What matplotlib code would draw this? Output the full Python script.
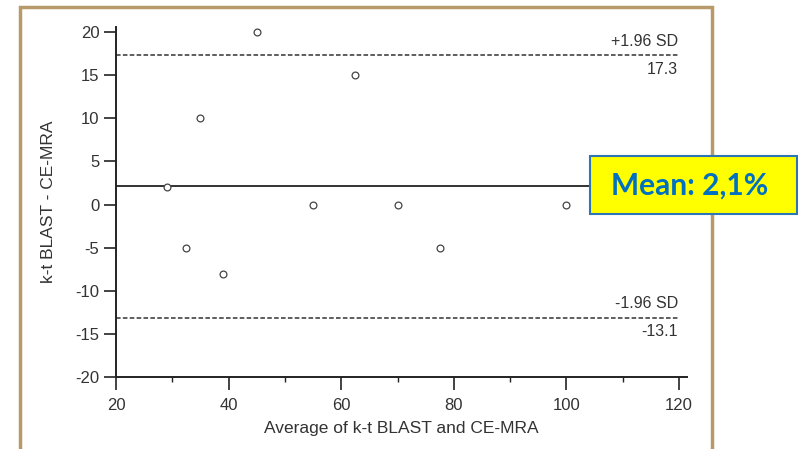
import matplotlib.pyplot as plt
from matplotlib.patches import Rectangle
from matplotlib.ticker import MultipleLocator

# Bland-Altman data
avg = [29, 32.5, 35, 39, 45, 55, 62.5, 70, 77.5, 100]
diff = [2, -5, 10, -8, 20, 0, 15, 0, -5, 0]
mean_diff = 2.1
upper_loa = 17.3
lower_loa = -13.1

plt.rcParams['font.family'] = ['Liberation Sans', 'DejaVu Sans']
plt.rcParams['axes.unicode_minus'] = False

fig = plt.figure(figsize=(7.98, 4.49), dpi=100)
ax = fig.add_axes([116 / 798, 72 / 449, 571 / 798, 350 / 449])

ink = '#222222'
ax.scatter(avg, diff, s=24, facecolors='white', edgecolors='#444444',
           linewidths=0.9, zorder=3)

ax.plot([20, 120], [mean_diff, mean_diff], color=ink, lw=1.3)
ax.plot([20, 120], [upper_loa, upper_loa], color='#333333', lw=1.1,
        linestyle=(0, (3, 1.5)))
ax.plot([20, 120], [lower_loa, lower_loa], color='#333333', lw=1.1,
        linestyle=(0, (3, 1.5)))

ax.text(119.8, upper_loa + 0.7, '+1.96 SD', ha='right', va='bottom',
        fontsize=11.5, color='#333333')
ax.text(119.8, upper_loa - 0.8, '%.1f' % upper_loa, ha='right', va='top',
        fontsize=11.5, color='#333333')
ax.text(119.8, lower_loa + 0.7, '-1.96 SD', ha='right', va='bottom',
        fontsize=11.5, color='#333333')
ax.text(119.8, lower_loa - 0.8, '%.1f' % lower_loa, ha='right', va='top',
        fontsize=11.5, color='#333333')

ax.set_xlim(20, 121.4)
ax.set_ylim(-20, 20.6)
ax.xaxis.set_major_locator(MultipleLocator(20))
ax.xaxis.set_minor_locator(MultipleLocator(10))
ax.yaxis.set_major_locator(MultipleLocator(5))
ax.set_xticks([20, 40, 60, 80, 100, 120])

for side in ['top', 'right']:
    ax.spines[side].set_visible(False)
for side in ['left', 'bottom']:
    ax.spines[side].set_color(ink)
    ax.spines[side].set_linewidth(1.4)

ax.tick_params(which='major', direction='out', length=9, width=1.2,
               color=ink, labelsize=12, labelcolor='#333333', pad=3)
ax.tick_params(axis='x', which='major', pad=6)
ax.tick_params(which='minor', direction='out', length=3.5, width=1.0,
               color=ink)
ax.tick_params(axis='y', which='minor', length=0)

ax.set_xlabel('Average of k-t BLAST and CE-MRA', fontsize=12.5,
              color='#333333', labelpad=6)
ax.set_ylabel('k-t BLAST - CE-MRA', fontsize=12.5, color='#333333',
              labelpad=14)

# brown frame around the chart
fig.patches.append(Rectangle((20 / 798, -0.1), 692 / 798, 1.1 - 7 / 449,
                             transform=fig.transFigure, fill=False,
                             edgecolor='#b89a6a', lw=2.5))

# yellow call-out box
fig.patches.append(Rectangle((590 / 798, (449 - 214) / 449), 207 / 798,
                             58 / 449, transform=fig.transFigure,
                             facecolor='#ffff00', edgecolor='#2e75b6',
                             lw=1.5, zorder=5))
fig.text(611 / 798, (449 - 186) / 449, 'Mean: 2,1%', ha='left',
         va='center', fontsize=21.5, fontweight='bold', color='#0070c0',
         family=['Lato', 'DejaVu Sans'], zorder=6)

fig.savefig('out.png', dpi=100)
